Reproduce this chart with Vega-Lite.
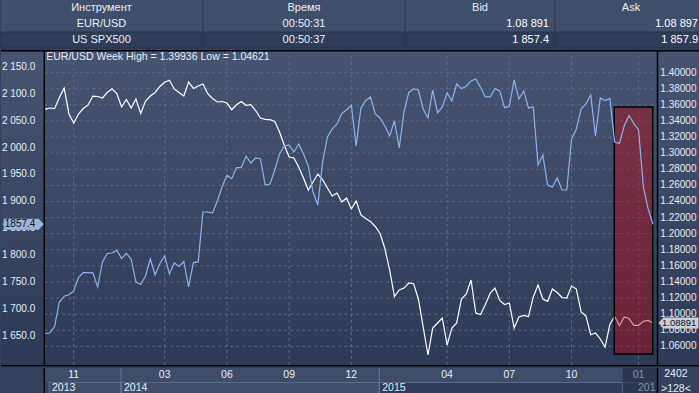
{
  "$schema": "https://vega.github.io/schema/vega-lite/v6.json",
  "padding": 0,
  "spacing": 0,
  "background": "#33415d",
  "config": {"view": {"stroke": null}, "concat": {"spacing": 0}, "font": "Liberation Sans",
             "locale": {"number": {"decimal": ".", "thousands": " ", "grouping": [3], "currency": ["", ""]}}},
  "datasets": {
    "header": [
      {"row": 0, "a": "Инструмент", "b": "Время", "c": "Bid", "d": "Ask"},
      {"row": 1, "a": "EUR/USD", "b": "00:50:31", "c": "1.08 891", "d": "1.08 897"},
      {"row": 2, "a": "US SPX500", "b": "00:50:37", "c": "1 857.4", "d": "1 857.9"}
    ],
    "grid": [{"g": 1.06},{"g": 1.08},{"g": 1.10},{"g": 1.12},{"g": 1.14},{"g": 1.16},{"g": 1.18},{"g": 1.20},{"g": 1.22},{"g": 1.24},{"g": 1.26},{"g": 1.28},{"g": 1.30},{"g": 1.32},{"g": 1.34},{"g": 1.36},{"g": 1.38},{"g": 1.40}],
    "lticks": [{"v": 1650},{"v": 1700},{"v": 1750},{"v": 1800},{"v": 1850},{"v": 1900},{"v": 1950},{"v": 2000},{"v": 2050},{"v": 2100},{"v": 2150}],
    "months": [{"i": 6, "lab": "11"},{"i": 25, "lab": "03"},{"i": 38, "lab": "06"},{"i": 51, "lab": "09"},{"i": 64, "lab": "12"},{"i": 84, "lab": "04"},{"i": 97, "lab": "07"},{"i": 110, "lab": "10"},{"i": 124, "lab": "01"}],
    "years": [{"year": "2013", "s": 0.84, "e": 15.88},{"year": "2014", "s": 15.88, "e": 69.83},{"year": "2015", "s": 69.83, "e": 120.68},{"year": "201", "s": 120.68, "e": 127.95}],
    "series": [
      {"i":0,"eur":1.3545,"spx":1654.1},{"i":1,"eur":1.3561,"spx":1655.0},{"i":2,"eur":1.3553,"spx":1667.1},{"i":3,"eur":1.3692,"spx":1712.7},
      {"i":4,"eur":1.3810,"spx":1723.5},{"i":5,"eur":1.3487,"spx":1726.1},{"i":6,"eur":1.3375,"spx":1733.2},{"i":7,"eur":1.3487,"spx":1758.3},
      {"i":8,"eur":1.3555,"spx":1767.2},{"i":9,"eur":1.3599,"spx":1767.2},{"i":10,"eur":1.3710,"spx":1767.0},{"i":11,"eur":1.3704,"spx":1740.6},
      {"i":12,"eur":1.3686,"spx":1787.2},{"i":13,"eur":1.3754,"spx":1803.0},{"i":14,"eur":1.3801,"spx":1803.9},{"i":15,"eur":1.3742,"spx":1808.7},
      {"i":16,"eur":1.3574,"spx":1793.7},{"i":17,"eur":1.3667,"spx":1803.0},{"i":18,"eur":1.3561,"spx":1792.7},{"i":19,"eur":1.3673,"spx":1749.9},
      {"i":20,"eur":1.3493,"spx":1745.3},{"i":21,"eur":1.3648,"spx":1761.1},{"i":22,"eur":1.3710,"spx":1792.7},{"i":23,"eur":1.3754,"spx":1763.0},
      {"i":24,"eur":1.3829,"spx":1784.4},{"i":25,"eur":1.3882,"spx":1798.3},{"i":26,"eur":1.3906,"spx":1764.8},{"i":27,"eur":1.3798,"spx":1785.3},
      {"i":28,"eur":1.3754,"spx":1778.8},{"i":29,"eur":1.3710,"spx":1788.1},{"i":30,"eur":1.3884,"spx":1740.6},{"i":31,"eur":1.3804,"spx":1785.9},
      {"i":32,"eur":1.3835,"spx":1787.2},{"i":33,"eur":1.3860,"spx":1880.2},{"i":34,"eur":1.3739,"spx":1880.2},{"i":35,"eur":1.3679,"spx":1878.3},
      {"i":36,"eur":1.3636,"spx":1900.7},{"i":37,"eur":1.3642,"spx":1926.7},{"i":38,"eur":1.3623,"spx":1948.5},{"i":39,"eur":1.3540,"spx":1942.2},
      {"i":40,"eur":1.3602,"spx":1962.6},{"i":41,"eur":1.3642,"spx":1962.6},{"i":42,"eur":1.3595,"spx":1983.9},{"i":43,"eur":1.3602,"spx":1971.4},
      {"i":44,"eur":1.3530,"spx":1980.7},{"i":45,"eur":1.3437,"spx":1979.4},{"i":46,"eur":1.3421,"spx":1930.4},{"i":47,"eur":1.3416,"spx":1932.3},
      {"i":48,"eur":1.3394,"spx":1958.4},{"i":49,"eur":1.3263,"spx":1988.1},{"i":50,"eur":1.3098,"spx":2003.0},{"i":51,"eur":1.2952,"spx":2004.9},
      {"i":52,"eur":1.2940,"spx":1991.9},{"i":53,"eur":1.2828,"spx":2006.8},{"i":54,"eur":1.2691,"spx":1988.1},{"i":55,"eur":1.2542,"spx":1965.8},
      {"i":56,"eur":1.2642,"spx":1917.4},{"i":57,"eur":1.2741,"spx":1893.2},{"i":58,"eur":1.2667,"spx":1973.3},{"i":59,"eur":1.2567,"spx":2019.8},
      {"i":60,"eur":1.2468,"spx":2034.7},{"i":61,"eur":1.2505,"spx":2044.0},{"i":62,"eur":1.2393,"spx":2063.5},{"i":63,"eur":1.2443,"spx":2070.0},
      {"i":64,"eur":1.2306,"spx":2078.8},{"i":65,"eur":1.2406,"spx":2003.0},{"i":66,"eur":1.2232,"spx":2073.8},{"i":67,"eur":1.2188,"spx":2087.7},
      {"i":68,"eur":1.2151,"spx":2094.2},{"i":69,"eur":1.2089,"spx":2062.6},{"i":70,"eur":1.2002,"spx":2055.1},{"i":71,"eur":1.1815,"spx":2040.3},
      {"i":72,"eur":1.1548,"spx":2021.6},{"i":73,"eur":1.1219,"spx":2049.6},{"i":74,"eur":1.1300,"spx":1999.3},{"i":75,"eur":1.1324,"spx":2066.3},
      {"i":76,"eur":1.1387,"spx":2102.6},{"i":77,"eur":1.1378,"spx":2109.1},{"i":78,"eur":1.1188,"spx":2107.2},{"i":79,"eur":1.0840,"spx":2071.9},
      {"i":80,"eur":1.0492,"spx":2055.1},{"i":81,"eur":1.0827,"spx":2107.2},{"i":82,"eur":1.0890,"spx":2064.4},{"i":83,"eur":1.0952,"spx":2075.6},
      {"i":84,"eur":1.0616,"spx":2101.7},{"i":85,"eur":1.0827,"spx":2086.8},{"i":86,"eur":1.0890,"spx":2118.4},{"i":87,"eur":1.1188,"spx":2109.7},
      {"i":88,"eur":1.1250,"spx":2114.1},{"i":89,"eur":1.1424,"spx":2124.0},{"i":90,"eur":1.1014,"spx":2127.7},{"i":91,"eur":1.0995,"spx":2111.9},
      {"i":92,"eur":1.1119,"spx":2094.2},{"i":93,"eur":1.1262,"spx":2094.2},{"i":94,"eur":1.1324,"spx":2109.7},{"i":95,"eur":1.1169,"spx":2105.4},
      {"i":96,"eur":1.1119,"spx":2074.3},{"i":97,"eur":1.1138,"spx":2076.9},{"i":98,"eur":1.0827,"spx":2125.9},{"i":99,"eur":1.0964,"spx":2090.5},
      {"i":100,"eur":1.0985,"spx":2105.4},{"i":101,"eur":1.0970,"spx":2073.8},{"i":102,"eur":1.1213,"spx":2075.6},{"i":103,"eur":1.1362,"spx":1967.7},
      {"i":104,"eur":1.1188,"spx":1986.3},{"i":105,"eur":1.1159,"spx":1930.4},{"i":106,"eur":1.1312,"spx":1926.7},{"i":107,"eur":1.1269,"spx":1943.5},
      {"i":108,"eur":1.1206,"spx":1921.1},{"i":109,"eur":1.1200,"spx":1921.1},{"i":110,"eur":1.1349,"spx":2016.1},{"i":111,"eur":1.1312,"spx":2034.7},
      {"i":112,"eur":1.1026,"spx":2071.9},{"i":113,"eur":1.0977,"spx":2081.2},{"i":114,"eur":1.0744,"spx":2097.9},{"i":115,"eur":1.0765,"spx":2021.6},
      {"i":116,"eur":1.0691,"spx":2092.4},{"i":117,"eur":1.0591,"spx":2087.7},{"i":118,"eur":1.0871,"spx":2091.4},{"i":119,"eur":1.0970,"spx":2010.5},
      {"i":120,"eur":1.0858,"spx":2007.7},{"i":121,"eur":1.0964,"spx":2040.3},{"i":122,"eur":1.0945,"spx":2059.8},{"i":123,"eur":1.0861,"spx":2044.9},
      {"i":124,"eur":1.0861,"spx":2032.8},{"i":125,"eur":1.0911,"spx":1926.7},{"i":126,"eur":1.0921,"spx":1885.8},{"i":127,"eur":1.0889,"spx":1857.4}
    ]
  },
  "vconcat": [
    {
      "spacing": 0,
      "hconcat": [
        {
          "width": 201, "height": 48, "data": {"name": "header"},
          "encoding": {"y": {"field": "row", "type": "ordinal", "axis": null, "scale": {"domain": [0, 1, 2], "paddingInner": 0, "paddingOuter": 0}}},
          "layer": [
            {"mark": {"type": "rect", "stroke": "#26324b", "strokeWidth": 1},
             "encoding": {"color": {"field": "row", "type": "ordinal", "legend": null, "scale": {"domain": [0, 1, 2], "range": ["#3f4e6b", "#3f4e6b", "#2f3d59"]}},
                          "strokeOpacity": {"condition": {"test": "datum.row == 2", "value": 1}, "value": 0}}},
            {"mark": {"type": "text", "fill": "#e9eef6", "fontSize": 11}, "encoding": {"text": {"field": "a"}}}
          ]
        },
        {
          "width": 200, "height": 48, "data": {"name": "header"},
          "encoding": {"y": {"field": "row", "type": "ordinal", "axis": null, "scale": {"domain": [0, 1, 2], "paddingInner": 0, "paddingOuter": 0}}},
          "layer": [
            {"mark": {"type": "rect", "stroke": "#26324b", "strokeWidth": 1},
             "encoding": {"color": {"field": "row", "type": "ordinal", "legend": null, "scale": {"domain": [0, 1, 2], "range": ["#3f4e6b", "#3f4e6b", "#2f3d59"]}},
                          "strokeOpacity": {"condition": {"test": "datum.row == 2", "value": 1}, "value": 0}}},
            {"mark": {"type": "text", "fill": "#e9eef6", "fontSize": 11}, "encoding": {"text": {"field": "b"}}}
          ]
        },
        {
          "width": 148, "height": 48, "data": {"name": "header"},
          "encoding": {"y": {"field": "row", "type": "ordinal", "axis": null, "scale": {"domain": [0, 1, 2], "paddingInner": 0, "paddingOuter": 0}}},
          "layer": [
            {"mark": {"type": "rect", "stroke": "#26324b", "strokeWidth": 1},
             "encoding": {"color": {"field": "row", "type": "ordinal", "legend": null, "scale": {"domain": [0, 1, 2], "range": ["#3f4e6b", "#3f4e6b", "#2f3d59"]}},
                          "strokeOpacity": {"condition": {"test": "datum.row == 2", "value": 1}, "value": 0}}},
            {"transform": [{"filter": "datum.row == 0"}], "mark": {"type": "text", "fill": "#e9eef6", "fontSize": 11}, "encoding": {"text": {"field": "c"}}},
            {"transform": [{"filter": "datum.row > 0"}], "mark": {"type": "text", "fill": "#ffffff", "fontSize": 11, "align": "right", "dx": -5}, "encoding": {"x": {"value": "width"}, "text": {"field": "c"}}}
          ]
        },
        {
          "width": 150, "height": 48, "data": {"name": "header"},
          "encoding": {"y": {"field": "row", "type": "ordinal", "axis": null, "scale": {"domain": [0, 1, 2], "paddingInner": 0, "paddingOuter": 0}}},
          "layer": [
            {"mark": {"type": "rect", "stroke": "#26324b", "strokeWidth": 1},
             "encoding": {"color": {"field": "row", "type": "ordinal", "legend": null, "scale": {"domain": [0, 1, 2], "range": ["#3f4e6b", "#3f4e6b", "#2f3d59"]}},
                          "strokeOpacity": {"condition": {"test": "datum.row == 2", "value": 1}, "value": 0}}},
            {"transform": [{"filter": "datum.row == 0"}], "mark": {"type": "text", "fill": "#e9eef6", "fontSize": 11}, "encoding": {"text": {"field": "d"}}},
            {"transform": [{"filter": "datum.row > 0"}], "mark": {"type": "text", "fill": "#ffffff", "fontSize": 11, "align": "right", "dx": -8}, "encoding": {"x": {"value": "width"}, "text": {"field": "d"}}}
          ]
        }
      ]
    },
    {
      "width": 699,
      "height": 316,
      "view": {"stroke": null, "fill": {"gradient": "linear", "x1": 0, "y1": 0, "x2": 0, "y2": 1, "stops": [{"offset": 0, "color": "#475572"}, {"offset": 1, "color": "#2d3a56"}]}},
      "resolve": {"scale": {"y": "independent"}},
      "layer": [
        {
          "layer": [
            {"data": {"name": "grid"},
             "mark": {"type": "rule", "stroke": "#5d6c8b", "strokeDash": [3, 3], "strokeWidth": 1},
             "encoding": {"y": {"field": "g", "type": "quantitative", "axis": null},
                          "x": {"datum": -0.146, "type": "quantitative", "axis": null}, "x2": {"datum": 127.95}}},
            {"data": {"name": "months"},
             "mark": {"type": "rule", "stroke": "#5d6c8b", "strokeDash": [3, 3], "strokeWidth": 1},
             "encoding": {"x": {"field": "i", "type": "quantitative", "axis": null}}},
            {"data": {"name": "grid"},
             "mark": {"type": "text", "align": "left", "baseline": "middle", "fill": "#e6ebf5", "fontSize": 10},
             "encoding": {"x": {"datum": 128.54, "type": "quantitative", "axis": null}, "y": {"field": "g", "type": "quantitative", "axis": null}, "text": {"field": "g", "format": ".5f"}}},
            {"data": {"name": "series"},
             "mark": {"type": "line", "stroke": "#ffffff", "strokeWidth": 1.2},
             "encoding": {
               "x": {"field": "i", "type": "quantitative", "axis": null, "scale": {"domain": [-9.19, 136.83], "nice": false, "zero": false}},
               "y": {"field": "eur", "type": "quantitative", "axis": null, "scale": {"domain": [1.03552, 1.42821], "nice": false, "zero": false}}}},
            {"data": {"values": [{}]},
             "mark": {"type": "rect", "fill": "#c50008", "fillOpacity": 0.4, "stroke": "#000000", "strokeWidth": 1.5},
             "encoding": {"x": {"datum": 118.93, "type": "quantitative", "axis": null}, "x2": {"datum": 126.95},
                          "y": {"datum": 1.35738, "type": "quantitative", "axis": null}, "y2": {"datum": 1.05043}}},
            {"data": {"values": [{"t": "EUR/USD Week High = 1.39936 Low = 1.04621"}]},
             "mark": {"type": "text", "align": "left", "baseline": "middle", "fill": "#e8edf5", "fontSize": 10.5},
             "encoding": {"x": {"datum": 0.27, "type": "quantitative", "axis": null}, "y": {"datum": 1.41951, "type": "quantitative", "axis": null}, "text": {"field": "t"}}},
            {"data": {"values": [{"v": 1.08891}]},
             "mark": {"type": "point", "shape": "M1,-0.275L-0.75,-0.275L-1,0L-0.75,0.275L1,0.275Z", "size": 1600, "filled": true, "fill": "#c9ced8", "opacity": 1, "strokeWidth": 0},
             "encoding": {"x": {"datum": 132.34, "type": "quantitative", "axis": null}, "y": {"field": "v", "type": "quantitative", "axis": null}}},
            {"data": {"values": [{"v": 1.08891}]},
             "mark": {"type": "text", "align": "left", "baseline": "middle", "fill": "#111111", "fontSize": 9.5},
             "encoding": {"x": {"datum": 128.9, "type": "quantitative", "axis": null}, "y": {"field": "v", "type": "quantitative", "axis": null}, "text": {"field": "v", "format": ".5f"}}},
            {"data": {"values": [{"v": 1.42734}, {"v": 1.03577}]},
             "mark": {"type": "rule", "stroke": "#000000", "strokeWidth": 1.5},
             "encoding": {"y": {"field": "v", "type": "quantitative", "axis": null}}},
            {"data": {"values": [{"v": -0.146}, {"v": 127.95}]},
             "mark": {"type": "rule", "stroke": "#000000", "strokeWidth": 1.5},
             "encoding": {"x": {"field": "v", "type": "quantitative", "axis": null}}}
          ]
        },
        {
          "layer": [
            {"data": {"name": "lticks"},
             "mark": {"type": "text", "align": "right", "baseline": "middle", "fill": "#e6ebf5", "fontSize": 10},
             "encoding": {"x": {"datum": -2.03, "type": "quantitative", "axis": null}, "y": {"field": "v", "type": "quantitative", "axis": null}, "text": {"field": "v", "format": ",.1f"}}},
            {"data": {"name": "series"},
             "mark": {"type": "line", "stroke": "#8cb3ee", "strokeWidth": 1.2},
             "encoding": {
               "x": {"field": "i", "type": "quantitative", "axis": null, "scale": {"domain": [-9.19, 136.83], "nice": false, "zero": false}},
               "y": {"field": "spx", "type": "quantitative", "axis": null, "scale": {"domain": [1593.6, 2181.6], "nice": false, "zero": false}}}},
            {"data": {"values": [{"v": 1857.4}]},
             "mark": {"type": "point", "shape": "M-1,-0.275L0.75,-0.275L1,0L0.75,0.275L-1,0.275Z", "size": 1600, "filled": true, "fill": "#9cb4da", "opacity": 1, "strokeWidth": 0},
             "encoding": {"x": {"datum": -4.45, "type": "quantitative", "axis": null}, "y": {"field": "v", "type": "quantitative", "axis": null}}},
            {"data": {"values": [{"v": 1857.4}]},
             "mark": {"type": "text", "align": "left", "baseline": "middle", "fill": "#111111", "fontSize": 10},
             "encoding": {"x": {"datum": -8.4, "type": "quantitative", "axis": null}, "y": {"field": "v", "type": "quantitative", "axis": null}, "text": {"field": "v", "format": ".1f"}}}
          ]
        }
      ]
    },
    {
      "width": 699,
      "height": 29,
      "layer": [
        {"data": {"values": [{}]}, "mark": {"type": "rect", "fill": "#33415d"}, "encoding": {}},
        {"data": {"values": [{"r": "m"}]},
         "mark": {"type": "rect", "fill": "#3e4d6a"},
         "encoding": {"x": {"datum": -0.146, "type": "quantitative", "axis": null, "scale": {"domain": [-9.19, 136.83], "nice": false, "zero": false}}, "x2": {"datum": 127.95},
                      "y": {"field": "r", "type": "nominal", "axis": null, "scale": {"domain": ["m", "y"], "paddingInner": 0, "paddingOuter": 0}}}},
        {"data": {"name": "years"},
         "mark": {"type": "rect", "stroke": "#5b6a89", "strokeWidth": 1},
         "encoding": {"x": {"field": "s", "type": "quantitative", "axis": null}, "x2": {"field": "e"},
                      "y": {"datum": "y", "type": "nominal", "axis": null},
                      "color": {"field": "year", "type": "nominal", "legend": null, "scale": {"domain": ["2013", "2014", "2015", "201"], "range": ["#4b5979", "#3d4b68", "#4b5979", "#3d4b68"]}}}},
        {"data": {"name": "years"}, "transform": [{"filter": "datum.year == '2014' || datum.year == '2015'"}],
         "mark": {"type": "rule", "stroke": "#6a7997", "strokeWidth": 1},
         "encoding": {"x": {"field": "s", "type": "quantitative", "axis": null}}},
        {"data": {"name": "months"},
         "mark": {"type": "text", "fill": "#e8edf5", "fontSize": 10.5, "baseline": "middle"},
         "encoding": {"x": {"field": "i", "type": "quantitative", "axis": null}, "y": {"datum": "m", "type": "nominal", "axis": null}, "text": {"field": "lab"}}},
        {"data": {"name": "years"}, "transform": [{"filter": "datum.year != '201'"}],
         "mark": {"type": "text", "fill": "#e8edf5", "fontSize": 10.5, "align": "left", "dx": 3, "dy": -2, "baseline": "middle"},
         "encoding": {"x": {"field": "s", "type": "quantitative", "axis": null}, "y": {"datum": "y", "type": "nominal", "axis": null}, "text": {"field": "year"}}},
        {"data": {"name": "years"}, "transform": [{"filter": "datum.year == '201'"}],
         "mark": {"type": "text", "fill": "#e8edf5", "fontSize": 10.5, "align": "right", "dx": -2, "dy": -2, "baseline": "middle"},
         "encoding": {"x": {"field": "e", "type": "quantitative", "axis": null}, "y": {"datum": "y", "type": "nominal", "axis": null}, "text": {"field": "year"}}},
        {"data": {"values": [{}]},
         "mark": {"type": "rect", "fill": "#141c2e", "opacity": 0.45},
         "encoding": {"x": {"datum": 120.68, "type": "quantitative", "axis": null}, "x2": {"datum": 127.95}}},
        {"data": {"values": [{"r": "m", "t": "2402"}, {"r": "y", "t": ">128<"}]},
         "mark": {"type": "text", "fill": "#e8edf5", "fontSize": 10.5, "baseline": "middle", "dy": -1},
         "encoding": {"x": {"datum": 131.8, "type": "quantitative", "axis": null}, "y": {"field": "r", "type": "nominal", "axis": null}, "text": {"field": "t"}}},
        {"data": {"values": [{"v": -0.146}, {"v": 127.95}]},
         "mark": {"type": "rule", "stroke": "#000000", "strokeWidth": 1.5},
         "encoding": {"x": {"field": "v", "type": "quantitative", "axis": null}}}
      ]
    }
  ]
}
